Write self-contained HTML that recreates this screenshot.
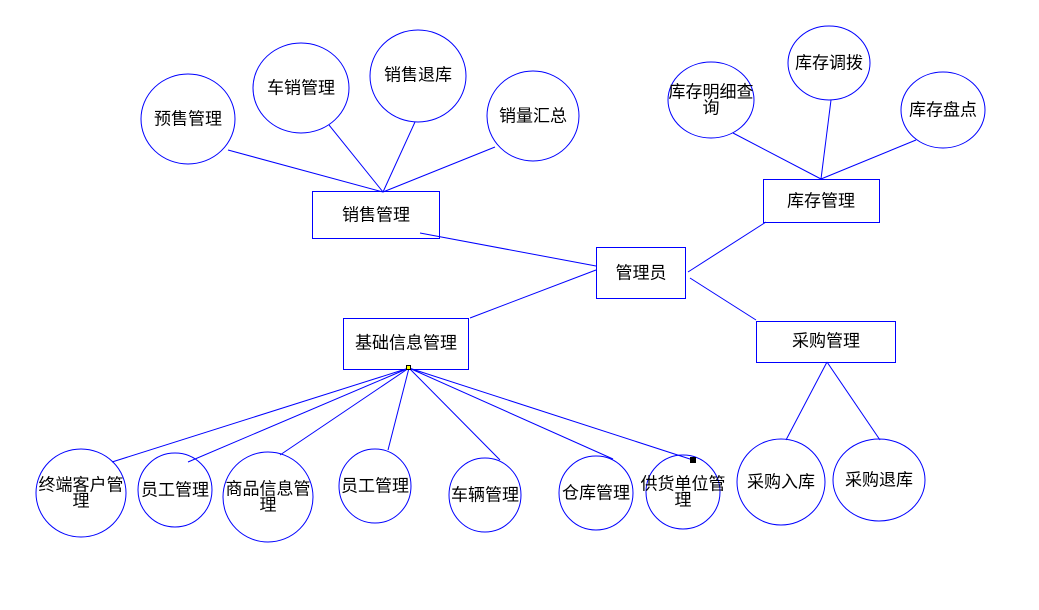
<!DOCTYPE html>
<html><head><meta charset="utf-8"><style>
html,body{margin:0;padding:0;background:#fff;}
svg{display:block;}
text{font-family:"Liberation Sans","Noto Sans CJK SC",sans-serif;font-size:17px;fill:#000;text-anchor:middle;dominant-baseline:central;}
</style></head><body>
<svg width="1039" height="610" viewBox="0 0 1039 610" xmlns="http://www.w3.org/2000/svg">
<g stroke="#0000ff" stroke-width="1" fill="none">
<line x1="228" y1="150" x2="383" y2="192"/>
<line x1="329" y1="125" x2="383" y2="192"/>
<line x1="415" y1="122" x2="383" y2="192"/>
<line x1="495" y1="147" x2="383" y2="192"/>
<line x1="733" y1="133" x2="821" y2="179"/>
<line x1="831" y1="100" x2="821" y2="179"/>
<line x1="916" y1="140" x2="821" y2="179"/>
<line x1="420" y1="233" x2="596" y2="266"/>
<line x1="688" y1="272" x2="766" y2="222"/>
<line x1="690" y1="278" x2="756" y2="320"/>
<line x1="470" y1="318" x2="596" y2="270"/>
<line x1="827" y1="362" x2="786" y2="440"/>
<line x1="827" y1="362" x2="880" y2="440"/>
<line x1="409" y1="368" x2="112" y2="462"/>
<line x1="409" y1="368" x2="188" y2="462"/>
<line x1="409" y1="368" x2="280" y2="455"/>
<line x1="409" y1="368" x2="388" y2="450"/>
<line x1="409" y1="368" x2="500" y2="460"/>
<line x1="409" y1="368" x2="613" y2="459"/>
<line x1="409" y1="368" x2="693" y2="460"/>

<rect x="312.5" y="191.5" width="127" height="47"/>
<rect x="763.5" y="179.5" width="116" height="43"/>
<rect x="596.5" y="247.5" width="89" height="51"/>
<rect x="343.5" y="318.5" width="125" height="51"/>
<rect x="756.5" y="321.5" width="139" height="41"/>

<ellipse cx="188" cy="119" rx="47" ry="45"/>
<ellipse cx="301" cy="88" rx="48" ry="45"/>
<ellipse cx="418" cy="76" rx="48" ry="46"/>
<ellipse cx="533" cy="116" rx="46" ry="45"/>
<ellipse cx="711" cy="100" rx="43" ry="38"/>
<ellipse cx="829" cy="63" rx="41" ry="37"/>
<ellipse cx="943" cy="110" rx="42" ry="38"/>

<ellipse cx="81" cy="493" rx="45" ry="44"/>
<ellipse cx="175" cy="490" rx="37" ry="37"/>
<ellipse cx="268" cy="497" rx="45" ry="45"/>
<ellipse cx="375" cy="486" rx="36" ry="37"/>
<ellipse cx="485" cy="495" rx="36" ry="37"/>
<ellipse cx="596" cy="493" rx="37" ry="37"/>
<ellipse cx="683" cy="492" rx="37" ry="37"/>
<ellipse cx="781" cy="482" rx="44" ry="43"/>
<ellipse cx="879" cy="480" rx="46" ry="41"/>
</g>
<rect x="406" y="365" width="5" height="5" fill="#000"/>
<rect x="407" y="366" width="3" height="3" fill="#ff0"/>
<rect x="690" y="457" width="6" height="6" fill="#000"/>

<text x="376" y="215">销售管理</text>
<text x="821" y="201">库存管理</text>
<text x="641" y="273">管理员</text>
<text x="406" y="343">基础信息管理</text>
<text x="826" y="341">采购管理</text>

<text x="188" y="119">预售管理</text>
<text x="301" y="88">车销管理</text>
<text x="418" y="75">销售退库</text>
<text x="533" y="116">销量汇总</text>
<text x="711" y="92">库存明细查</text>
<text x="711" y="108">询</text>
<text x="829" y="63">库存调拨</text>
<text x="943" y="110">库存盘点</text>

<text x="81" y="485">终端客户管</text>
<text x="81" y="501">理</text>
<text x="175" y="490">员工管理</text>
<text x="268" y="489">商品信息管</text>
<text x="268" y="505">理</text>
<text x="375" y="486">员工管理</text>
<text x="485" y="495">车辆管理</text>
<text x="596" y="493">仓库管理</text>
<text x="683" y="484">供货单位管</text>
<text x="683" y="500">理</text>
<text x="781" y="482">采购入库</text>
<text x="879" y="480">采购退库</text>
</svg>
</body></html>
